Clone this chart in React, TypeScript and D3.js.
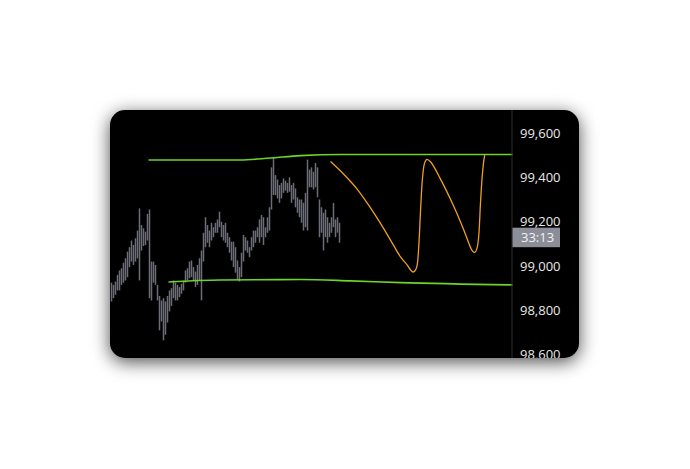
import React from "react";
import * as d3 from "d3";

// bar index (2px per bar in the reference), price high / low
const barHigh = [
  98925, 98915, 98930, 98960, 98980, 98990, 99015, 99035, 99065, 99085,
  99115, 99095, 99125, 99160, 99260, 99185, 99170, 99155, 99235, 99255,
  99020, 99020, 99005, 98915, 98865, 98845, 98855, 98840, 98865, 98890,
  98900, 98935, 98925, 98915, 98905, 98920, 98935, 98980, 98990, 99020,
  99025, 98995, 98975, 99005, 99035, 99070, 99150, 99220, 99185, 99160,
  99195, 99175, 99195, 99210, 99245, 99200, 99185, 99195, 99150, 99130,
  99110, 99110, 99085, 99025, 98995, 99060, 99140, 99130, 99115, 99085,
  99130, 99160, 99160, 99175, 99210, 99230, 99220, 99175, 99220, 99265,
  99445, 99490, 99410, 99390, 99365, 99375, 99395, 99385, 99375, 99400,
  99365, 99375, 99350, 99310, 99300, 99300, 99285, 99330, 99480, 99435,
  99445, 99425, 99465, 99445, 99300, 99265, 99240, 99255, 99220, 99195,
  99220, 99285, 99210, 99220, 99195,
];
const barLow = [
  98840, 98855, 98870, 98890, 98890, 98915, 98925, 98935, 98950, 98995,
  99020, 99005, 99020, 99035, 98935, 99070, 99090, 99095, 99115, 98855,
  98845, 98925, 98915, 98845, 98710, 98750, 98665, 98690, 98745, 98795,
  98820, 98855, 98845, 98845, 98860, 98875, 98890, 98925, 98935, 98945,
  98950, 98935, 98905, 98915, 98935, 98845, 99020, 99085, 99105, 99085,
  99115, 99130, 99150, 99150, 99175, 99130, 99115, 99105, 99085, 99060,
  99025, 98995, 98970, 98935, 98930, 98950, 99020, 99070, 99060, 99040,
  99070, 99085, 99105, 99130, 99105, 99130, 99095, 99130, 99150, 99160,
  99255, 99320, 99320, 99305, 99285, 99305, 99330, 99340, 99330, 99335,
  99285, 99300, 99265, 99240, 99220, 99195, 99160, 99175, 99160, 99355,
  99355, 99345, 99355, 99310, 99130, 99150, 99070, 99130, 99105, 99130,
  99150, 99175, 99130, 99150, 99105,
];

// channel lines (bar index, price)
const upperIdx = [18.5, 64.5, 79.5, 94.5, 114.5, 200.5];
const upperPrice = [99478, 99478, 99487, 99498, 99503, 99503];
const lowerIdx = [28.5, 54.5, 94.5, 119.5, 144.5, 200.5];
const lowerPrice = [98928, 98937, 98939, 98933, 98925, 98915];

// projected path
const projIdx = [
  109.5, 116, 123, 129.5, 134.5, 139.5, 144.5, 148, 149.5, 150.8, 152, 152.8,
  153.6, 154.5, 155.5, 156.5, 157.6, 159.5, 164.5, 171, 176, 179.5, 180.8,
  181.8, 182.8, 183.6, 184.5, 185.3, 186.1, 186.6,
];
const projPrice = [
  99471, 99415, 99345, 99262, 99192, 99117, 99041, 99003, 98983, 98973, 98982,
  99003, 99085, 99246, 99397, 99463, 99481, 99470, 99392, 99272, 99166, 99084,
  99064, 99062, 99082, 99134, 99285, 99397, 99472, 99500,
];

const yTicks = [99600, 99400, 99200, 99000, 98800, 98600];
const timerLabel = "33:13";
const lastPrice = 99130;

export default function App() {
  const W = 690, H = 469;
  const card = { x: 110, y: 110, w: 469, h: 248, r: 15 };
  const axisX = 512;

  const x = d3.scaleLinear().domain([0, 200.5]).range([111.5, 512.5]);
  const y = d3.scaleLinear().domain([98600, 99600]).range([354.7, 133]);

  const lineGen = d3
    .line<[number, number]>()
    .x((d) => x(d[0]))
    .y((d) => y(d[1]))
    .curve(d3.curveMonotoneX);

  const upper = lineGen(upperIdx.map((v, i) => [v, upperPrice[i]]) as [number, number][]);
  const lower = lineGen(lowerIdx.map((v, i) => [v, lowerPrice[i]]) as [number, number][]);
  const proj = d3
    .line<[number, number]>()
    .x((d) => x(d[0]))
    .y((d) => y(d[1]))
    .curve(d3.curveCatmullRom.alpha(0.5))(
    projIdx.map((v, i) => [v, projPrice[i]]) as [number, number][]
  );

  return (
    <svg
      width={W}
      height={H}
      style={{ position: "absolute", left: 0, top: 0, background: "#fff" }}
    >
      <defs>
        <filter id="sh" x="-20%" y="-30%" width="140%" height="160%">
          <feDropShadow dx="0" dy="4" stdDeviation="9" floodColor="#000" floodOpacity="0.7" />
        </filter>
        <clipPath id="clip">
          <rect x={card.x} y={card.y} width={card.w} height={card.h} rx={card.r} />
        </clipPath>
      </defs>
      <rect
        x={card.x}
        y={card.y}
        width={card.w}
        height={card.h}
        rx={card.r}
        fill="#000"
        filter="url(#sh)"
      />
      <g clipPath="url(#clip)">
        {barHigh.map((h, i) => (
          <rect
            key={i}
            x={x(i) - 0.75}
            y={y(h)}
            width={1.5}
            height={Math.max(1, y(barLow[i]) - y(h))}
            fill="#6b6e78"
          />
        ))}
        <path d={upper || ""} fill="none" stroke="#6cd42a" strokeWidth={1.6} />
        <path d={lower || ""} fill="none" stroke="#6cd42a" strokeWidth={1.6} />
        <path d={proj || ""} fill="none" stroke="#f0a01e" strokeWidth={1.3} />
        <line x1={axisX} x2={axisX} y1={card.y} y2={card.y + card.h} stroke="#2e2e2e" strokeWidth={1} />
        {yTicks.map((t) => (
          <text
            key={t}
            x={520}
            y={y(t)}
            dy="0.35em"
            fill="#e8e8e8"
            fontFamily="'Open Sans', sans-serif"
            fontSize={13}
          >
            {d3.format(",")(t)}
          </text>
        ))}
        <rect x={axisX + 0.5} y={y(lastPrice) - 9.5} width={47.5} height={19.5} fill="#8b8e98" />
        <text
          x={521}
          y={y(lastPrice)}
          dy="0.35em"
          fill="#f2f2f2"
          fontFamily="'Open Sans', sans-serif"
          fontSize={13}
        >
          {timerLabel}
        </text>
      </g>
    </svg>
  );
}
